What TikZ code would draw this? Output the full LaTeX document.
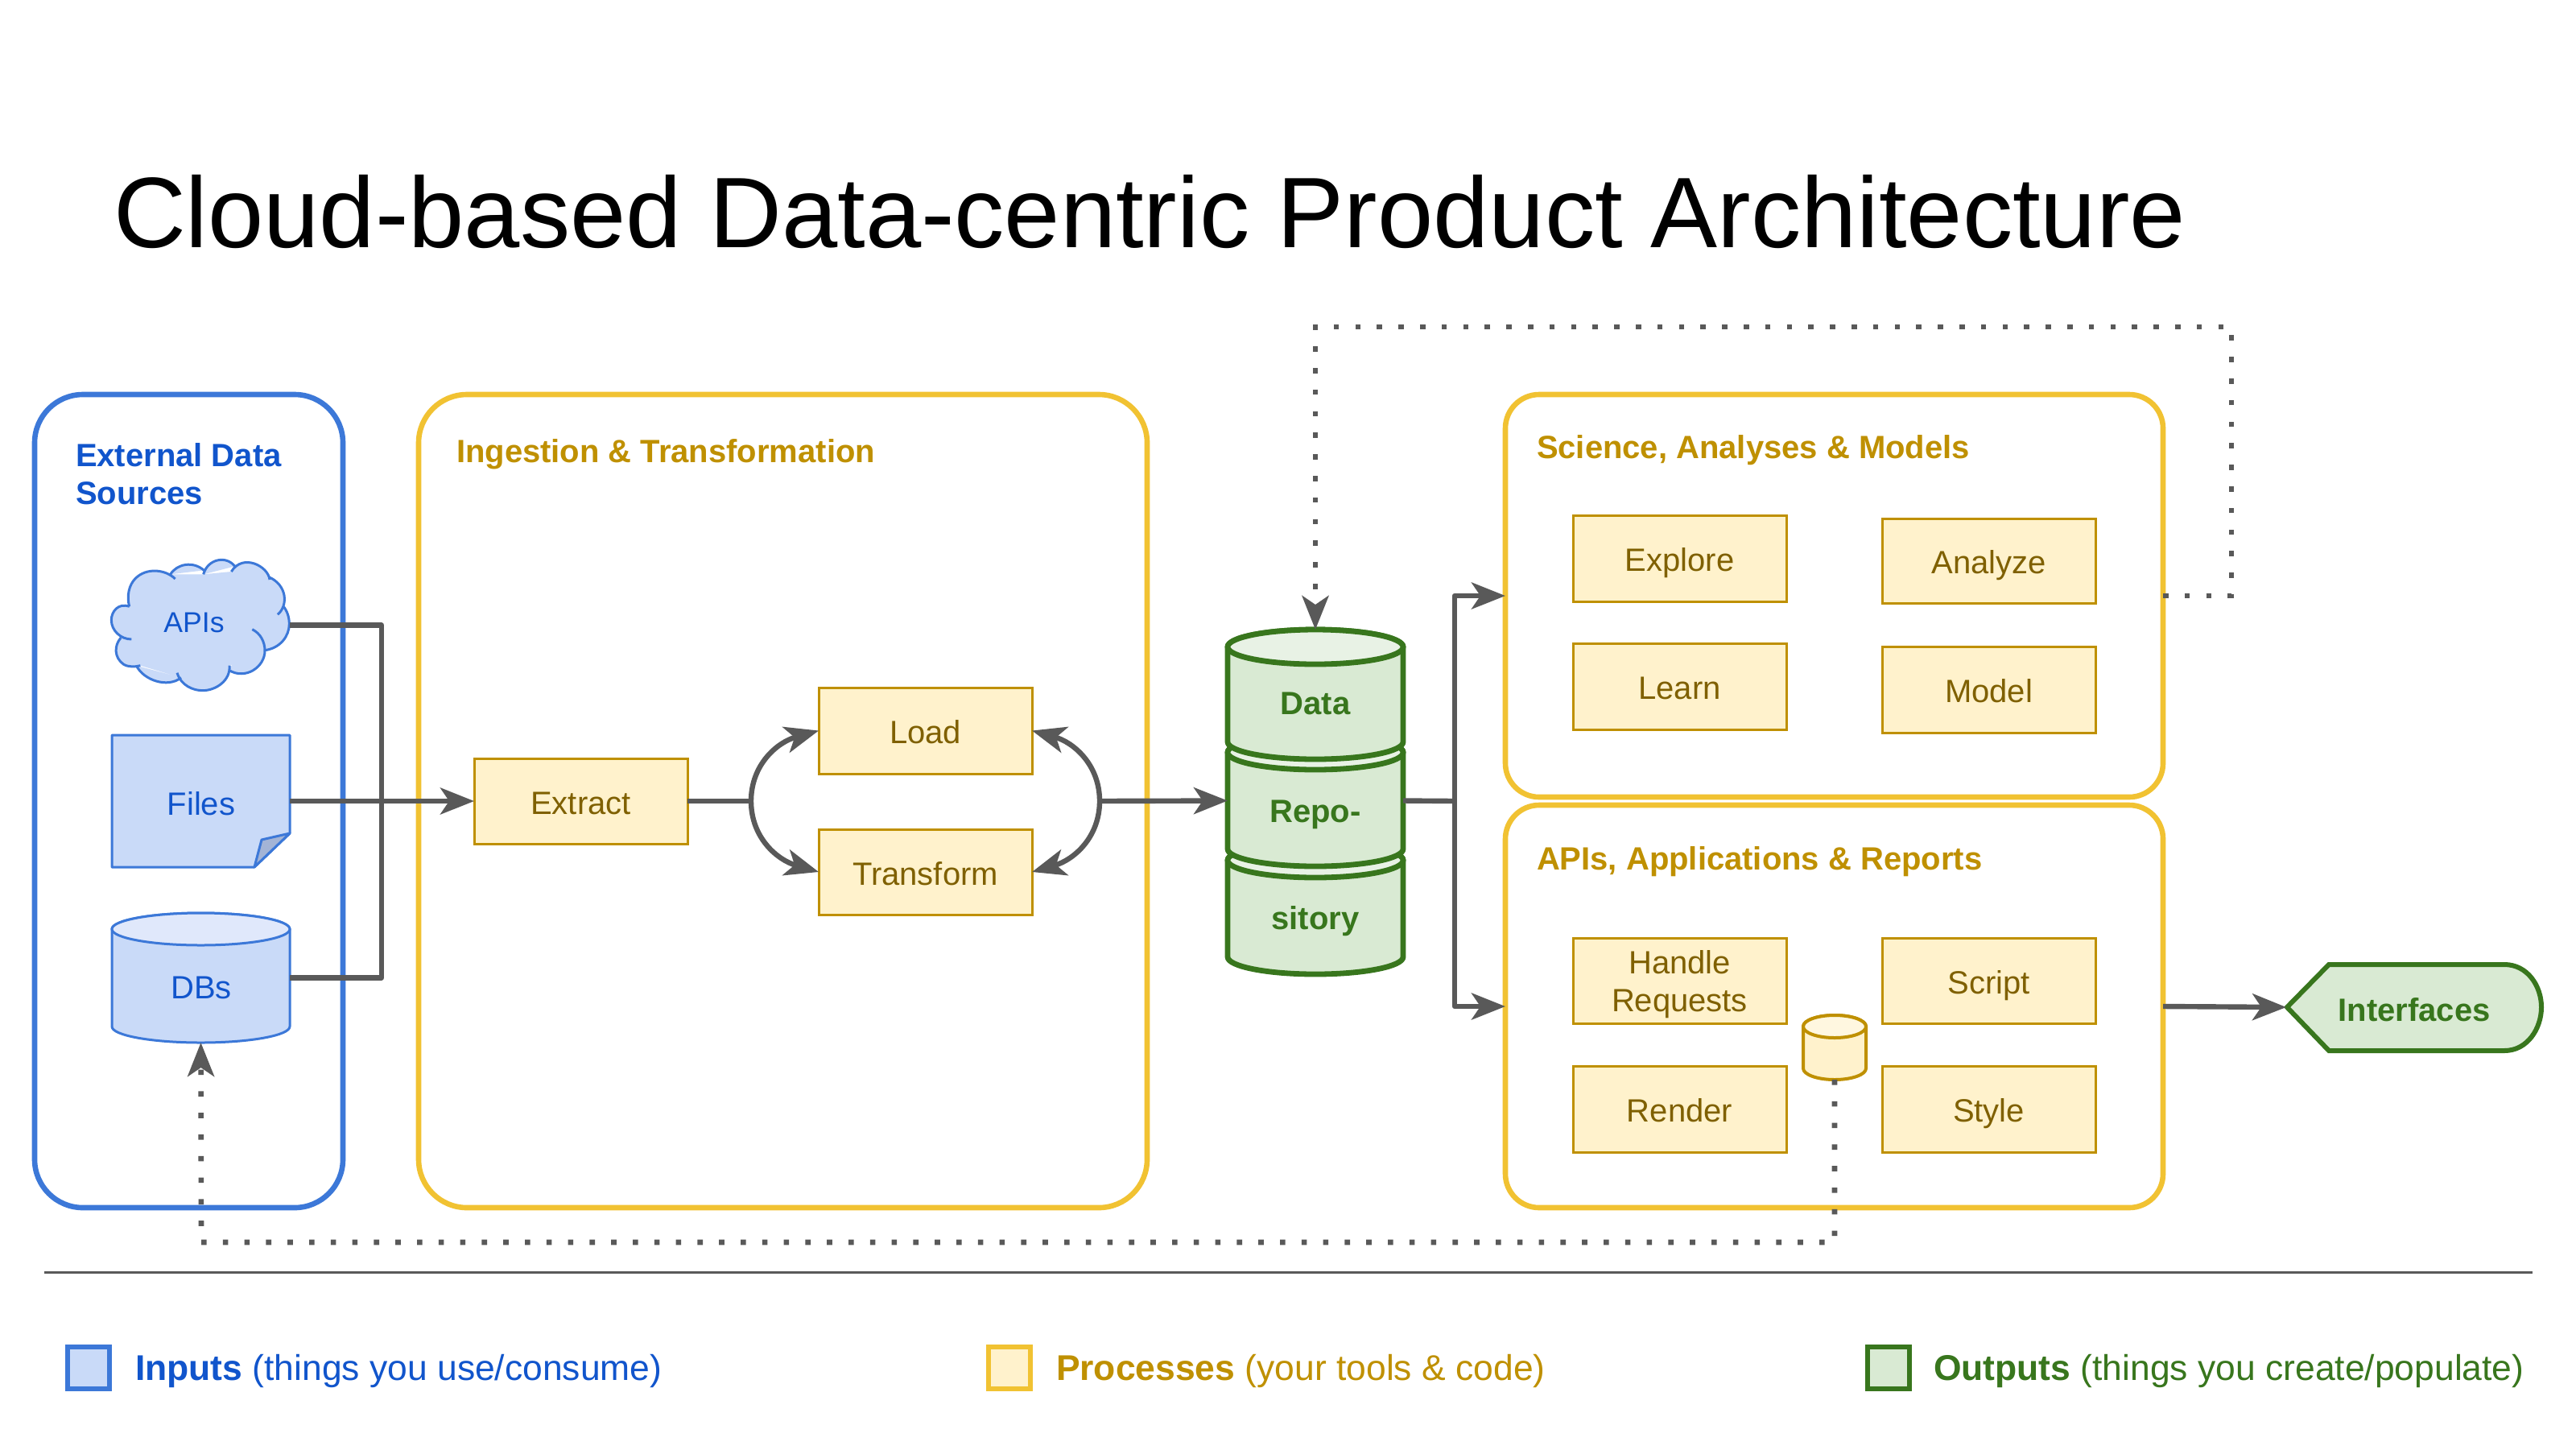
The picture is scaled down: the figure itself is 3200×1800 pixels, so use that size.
\documentclass[tikz,border=0pt]{standalone}
\usepackage{fontspec}
\setmainfont{Liberation Sans}
\usetikzlibrary{arrows.meta}
\definecolor{bfill}{HTML}{C9DAF8}\definecolor{bstroke}{HTML}{3C78D8}\definecolor{btext}{HTML}{1155CC}\definecolor{btop}{HTML}{E0E8FB}\definecolor{bfold}{HTML}{A3B4D6}
\definecolor{yfill}{HTML}{FFF2CC}\definecolor{ystroke}{HTML}{BF9000}\definecolor{ytext}{HTML}{7F6000}\definecolor{yframe}{HTML}{F1C232}\definecolor{ytop}{HTML}{FFF7E0}
\definecolor{gfill}{HTML}{D9EAD3}\definecolor{gstroke}{HTML}{38761D}\definecolor{gtop}{HTML}{E8F2E5}
\definecolor{conn}{HTML}{595959}
\newcommand\rn[7]{%
  \pgfmathsetmacro\cxx{(#2+#4)/2}\pgfmathsetmacro\cyy{(#3+#5)/2}%
  \pgfmathsetmacro\www{(#4-#2)/2}\pgfmathsetmacro\hhh{(#5-#3)/2}%
  \node[#6,minimum width=\www pt,minimum height=\hhh pt] (#1) at (\cxx,\cyy) {#7};}
% name x1 y1 x2 y2 ry body top stroke lw
\newcommand\cyl[9]{%
  \pgfmathsetmacro\cxx{(#2+#4)/2}\pgfmathsetmacro\rxx{(#4-#2)/2}%
  \pgfmathsetmacro\kx{.5523*\rxx}\pgfmathsetmacro\ky{.5523*#6}%
  \pgfmathsetmacro\ya{#3+#6}\pgfmathsetmacro\yb{#5-#6}%
  \pgfmathsetmacro\www{(#4-#2)/2}\pgfmathsetmacro\hhh{(#5-#3)/2}\pgfmathsetmacro\cyy{(#3+#5)/2}%
  \node[minimum width=\www pt,minimum height=\hhh pt,inner sep=0pt,outer sep=0pt] (#1) at (\cxx,\cyy) {};
  \path[fill=#7,draw=#9,cylline,line join=round] (#2,\ya)
    .. controls (#2,\ya-\ky) and (\cxx-\kx,#3) .. (\cxx,#3)
    .. controls (\cxx+\kx,#3) and (#4,\ya-\ky) .. (#4,\ya)
    -- (#4,\yb)
    .. controls (#4,\yb+\ky) and (\cxx+\kx,#5) .. (\cxx,#5)
    .. controls (\cxx-\kx,#5) and (#2,\yb+\ky) .. (#2,\yb) -- cycle;
  \path[fill=#8,draw=#9,cylline] (#2,\ya)
    .. controls (#2,\ya-\ky) and (\cxx-\kx,#3) .. (\cxx,#3)
    .. controls (\cxx+\kx,#3) and (#4,\ya-\ky) .. (#4,\ya)
    .. controls (#4,\ya+\ky) and (\cxx+\kx,\ya+#6) .. (\cxx,\ya+#6)
    .. controls (\cxx-\kx,\ya+#6) and (#2,\ya+\ky) .. (#2,\ya) -- cycle;}
\begin{document}
\begin{tikzpicture}[x=0.5pt,y=-0.5pt,
  every node/.style={inner sep=0pt,outer sep=0pt},
  lab/.style={font=\fontsize{20}{23.5}\selectfont,align=center},
  ttl/.style={font=\fontsize{20}{23.5}\selectfont\bfseries,anchor=base west,align=left},
  frameb/.style={draw=bstroke,line width=3.3pt,rounded corners=30pt},
  framey/.style={draw=yframe,line width=3.3pt,rounded corners=30pt},
  framez/.style={draw=yframe,line width=3.3pt,rounded corners=21pt},
  ybox/.style={draw=ystroke,fill=yfill,line width=1.5pt,text=ytext,lab,text height=16pt,text depth=0pt},
  cylline/.style={line width=2pt},
  link/.style={draw=conn,line width=3.2pt,line join=round},
  tip/.style={-{Stealth[length=21pt,width=16.5pt,inset=5.5pt]}},
  dots/.style={draw=conn,line width=3.3pt,dash pattern=on 3.3pt off 10.1pt},
  legbox/.style={line width=3pt,minimum width=26pt,minimum height=26pt},
  legtxt/.style={font=\fontsize{22.22}{26}\selectfont,anchor=base west}]
\fill[white] (0,0) rectangle (3200,1800);
\useasboundingbox (0,0) rectangle (3200,1800);
\node[font=\fontsize{62.25}{75}\selectfont,anchor=base west] (title) at (141,307) {Cloud-based Data-centric Product Architecture};
% containers
\rn{ext}{43}{490}{426}{1500}{frameb}{}
\rn{ing}{520}{490}{1425}{1500}{framey}{}
\rn{sci}{1870}{490}{2687}{990}{framez}{}
\rn{app}{1870}{1000}{2687}{1500}{framez}{}
\node[ttl,text=btext] (extT) at (94,626) {External Data\\Sources};
\node[ttl,text=ystroke] (ingT) at (567,574) {Ingestion \& Transformation};
\node[ttl,text=ystroke] (sciT) at (1909,569) {Science, Analyses \& Models};
\node[ttl,text=ystroke] (appT) at (1909,1080) {APIs, Applications \& Reports};
% cloud
\rn{apis}{139}{695}{360}{858}{}{}
\begin{scope}[shift={(125,685)},x=0.16667pt,y=-0.16667pt]
\fill[bfill]
 (107,205) -- (75,322) -- (148,425) -- (300,470) -- (480,425) -- (612,370) -- (680,203) -- (627,95) -- (487,75) -- (383,85) -- (260,85) -- cycle
 (107,205) .. controls (65,190) and (40,225) .. (40,255) .. controls (40,295) and (75,327) .. (115,327) -- cycle
 (75,322) .. controls (50,350) and (50,395) .. (85,420) .. controls (105,432) and (130,430) .. (148,425) -- cycle
 (133,425) .. controls (160,480) and (250,510) .. (300,470) -- cycle
 (285,452) .. controls (300,500) and (345,518) .. (380,518) .. controls (430,518) and (485,480) .. (480,425) -- cycle
 (478,442) .. controls (540,480) and (612,430) .. (612,370) .. controls (612,335) and (595,305) .. (565,290) -- cycle
 (612,368) .. controls (670,360) and (703,315) .. (703,270) .. controls (703,245) and (695,220) .. (680,203) -- cycle
 (660,235) .. controls (700,200) and (695,125) .. (627,95) -- cycle
 (630,105) .. controls (625,55) and (530,5) .. (487,75) -- cycle
 (500,55) .. controls (470,15) and (400,25) .. (383,85) -- cycle
 (385,70) .. controls (345,35) and (285,45) .. (260,85) -- cycle
 (278,102) .. controls (240,65) and (170,60) .. (130,100) .. controls (105,125) and (97,165) .. (107,205) -- cycle;
\draw[bstroke,line width=1.5pt]
 (107,205) .. controls (65,190) and (40,225) .. (40,255) .. controls (40,295) and (75,327) .. (115,327)
 (75,322) .. controls (50,350) and (50,395) .. (85,420) .. controls (105,432) and (130,430) .. (148,425)
 (133,425) .. controls (160,480) and (250,510) .. (300,470)
 (285,452) .. controls (300,500) and (345,518) .. (380,518) .. controls (430,518) and (485,480) .. (480,425)
 (478,442) .. controls (540,480) and (612,430) .. (612,370) .. controls (612,335) and (595,305) .. (565,290)
 (612,368) .. controls (670,360) and (703,315) .. (703,270) .. controls (703,245) and (695,220) .. (680,203)
 (660,235) .. controls (700,200) and (695,125) .. (627,95)
 (630,105) .. controls (625,55) and (530,5) .. (487,75)
 (500,55) .. controls (470,15) and (400,25) .. (383,85)
 (385,70) .. controls (345,35) and (285,45) .. (260,85)
 (278,102) .. controls (240,65) and (170,60) .. (130,100) .. controls (105,125) and (97,165) .. (107,205);
\end{scope}
\node[font=\fontsize{17.8}{21}\selectfont,text=btext] (apisT) at (241,773) {APIs};
% files
\rn{files}{139}{913}{360}{1077}{}{}
\path[fill=bfill,draw=bstroke,line width=1.5pt,line join=round] (139,913) -- (360,913) -- (360,1035) -- (316,1077) -- (139,1077) -- cycle;
\path[fill=bfold,draw=bstroke,line width=1.5pt,line join=round] (360,1035) -- (325,1043) -- (316,1077) -- cycle;
\node[lab,text=btext] (filesT) at (250,998) {Files};
% dbs
\begin{scope}[cylline/.style={line width=1.5pt}]
\cyl{dbs}{139}{1134}{360}{1295}{20}{bfill}{btop}{bstroke}
\end{scope}
\node[lab,text=btext] (dbsT) at (250,1227) {DBs};
% boxes
\rn{extract}{589}{942}{854}{1048}{ybox}{Extract}
\rn{load}{1017}{854}{1282}{961}{ybox}{Load}
\rn{transform}{1017}{1030}{1282}{1136}{ybox}{Transform}
\rn{explore}{1954}{640}{2219}{747}{ybox}{Explore}
\rn{analyze}{2338}{644}{2603}{749}{ybox}{Analyze}
\rn{learn}{1954}{799}{2219}{906}{ybox}{Learn}
\rn{model}{2338}{803}{2603}{910}{ybox}{Model}
\rn{handle}{1954}{1165}{2219}{1271}{ybox}{}
\node[lab,text=ytext] (handleT) at (2086.5,1223) {Handle\\Requests};
\rn{script}{2338}{1165}{2603}{1271}{ybox}{Script}
\rn{render}{1954}{1324}{2219}{1431}{ybox}{Render}
\rn{style}{2338}{1324}{2603}{1431}{ybox}{Style}
% green cylinders
\begin{scope}[cylline/.style={line width=3.4pt}]
\cyl{cylc}{1525}{1047}{1743}{1210}{21.5}{gfill}{gtop}{gstroke}
\cyl{cylb}{1525}{913}{1743}{1076}{21.5}{gfill}{gtop}{gstroke}
\cyl{cyla}{1525}{782}{1743}{943}{21.5}{gfill}{gtop}{gstroke}
\end{scope}
\node[lab,font=\fontsize{20}{23.5}\selectfont\bfseries,text=gstroke] (cylaT) at (1634,874) {Data};
\node[lab,font=\fontsize{20}{23.5}\selectfont\bfseries,text=gstroke] (cylbT) at (1634,1012) {Repo-};
\node[lab,font=\fontsize{20}{23.5}\selectfont\bfseries,text=gstroke] (cylcT) at (1634,1144) {sitory};
% small cylinder
\cyl{mini}{2240}{1261}{2318}{1341}{14}{yfill}{ytop}{ystroke}
% interfaces
\rn{iface}{2840}{1197}{3157}{1305}{}{}
\path[fill=gfill,draw=gstroke,line width=3pt,line join=miter] (2841,1251) -- (2893,1198) -- (3111,1198)
  .. controls (3140,1198) and (3157,1225) .. (3157,1251)
  .. controls (3157,1277) and (3140,1305) .. (3111,1305) -- (2893,1305) -- cycle;
\node[lab,font=\fontsize{20}{23.5}\selectfont\bfseries,text=gstroke] (ifaceT) at (2999,1254) {Interfaces};
% connectors
\coordinate (bus) at (474,995);
\coordinate (hubL) at (933,995);
\coordinate (hubR) at (1366,995);
\coordinate (branch) at (1807,995);
\coordinate (upC) at (2772,406);
\coordinate (lowC) at (250,1543);
\draw[link] (apis.east) -| (bus) |- (dbs.east);
\draw[link,tip] (files.east) -- (extract.west);
\draw[link] (extract.east) -- (hubL);
\draw[link,tip] (hubL) .. controls (933,950) and (965,922) .. (load.west);
\draw[link,tip] (hubL) .. controls (933,1040) and (965,1068) .. (transform.west);
\draw[link,tip] (hubR) .. controls (1366,950) and (1334,922) .. (load.east);
\draw[link,tip] (hubR) .. controls (1366,1040) and (1334,1068) .. (transform.east);
\draw[link,tip] (hubR) -- (cylb.west);
\draw[link] (cylb.east) -- (branch);
\draw[link,tip] (branch) |- (sci.west);
\draw[link,tip] (branch) |- (app.west);
\draw[link,tip] (app.east) -- (iface.west);
\draw[dots,tip] (sci.east) -| (upC) -| (cyla.north);
\draw[dots,tip] (mini.south) |- (lowC) -- (dbs.south);
% separator
\coordinate (sepL) at (55,1580);
\coordinate (sepR) at (3146,1580);
\draw[draw=conn,line width=1.5pt] (sepL) -- (sepR);
% legend
\node[legbox,draw=bstroke,fill=bfill] (legA) at (110,1699) {};
\node[legbox,draw=yframe,fill=yfill] (legB) at (1254,1699) {};
\node[legbox,draw=gstroke,fill=gfill] (legC) at (2346,1699) {};
\node[legtxt,text=btext] (legAT) at (168,1714) {\textbf{Inputs} (things you use/consume)};
\node[legtxt,text=ystroke] (legBT) at (1312,1714) {\textbf{Processes} (your tools \& code)};
\node[legtxt,text=gstroke] (legCT) at (2402,1714) {\textbf{Outputs} (things you create/populate)};
\end{tikzpicture}
\end{document}
